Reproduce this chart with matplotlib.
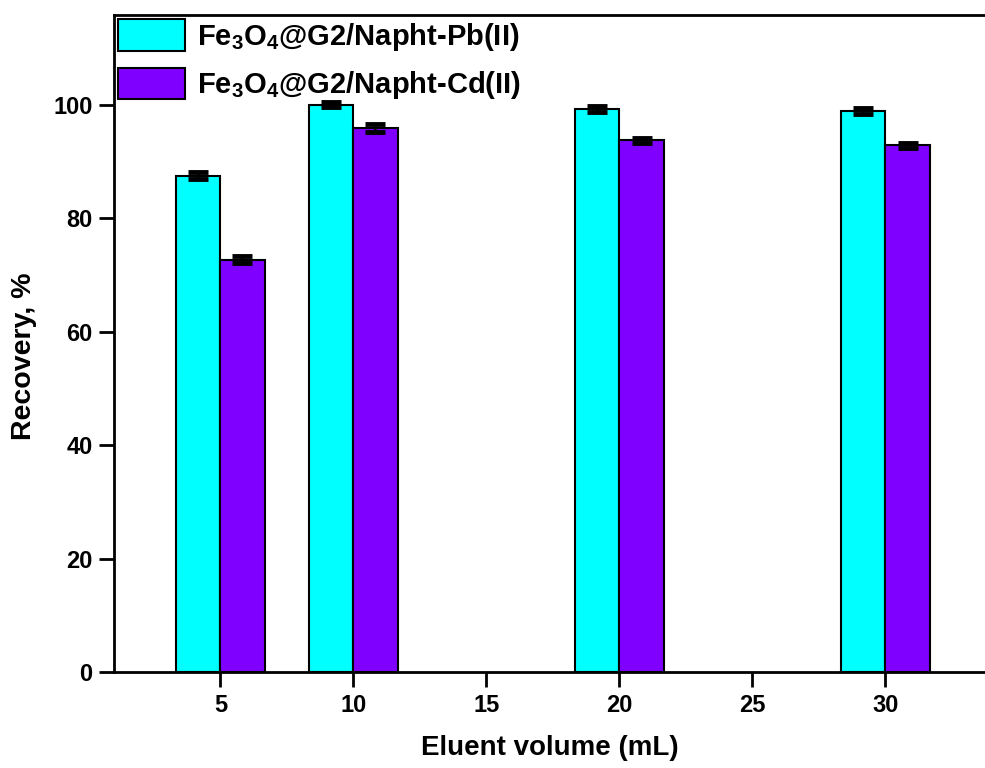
import matplotlib
matplotlib.use("Agg")
import matplotlib.pyplot as plt
import numpy as np

plt.rcParams['font.family'] = ['Liberation Sans', 'DejaVu Sans']
plt.rcParams['font.weight'] = 'bold'
plt.rcParams['mathtext.fontset'] = 'custom'
plt.rcParams['mathtext.rm'] = 'Liberation Sans:bold'
plt.rcParams['mathtext.it'] = 'Liberation Sans:bold'
plt.rcParams['mathtext.bf'] = 'Liberation Sans:bold'

# Eluent volume (mL) and recoveries (%)
volumes = [5, 10, 20, 30]
pb_recovery = [87.5, 100.0, 99.2, 98.9]
pb_error = [0.6, 0.5, 0.5, 0.5]
cd_recovery = [72.7, 95.8, 93.7, 92.8]
cd_error = [0.6, 0.7, 0.4, 0.4]
series_labels = [r'Fe$_3$O$_4$@G2/Napht-Pb(II)', r'Fe$_3$O$_4$@G2/Napht-Cd(II)']

fig = plt.figure(figsize=(9.85, 7.68), dpi=100)
ax = fig.add_axes([0.1157, 0.125, 0.8843, 0.8555])

width = 1.66
x = np.array(volumes, dtype=float)
err_kw = dict(ecolor='black', elinewidth=2.0, capsize=7, capthick=3.5)
ax.bar(x - width / 2, pb_recovery, width, yerr=pb_error, color='#00FFFF',
       edgecolor='black', linewidth=1.5, label=series_labels[0], error_kw=err_kw)
ax.bar(x + width / 2, cd_recovery, width, yerr=cd_error, color='#7F00FF',
       edgecolor='black', linewidth=1.5, label=series_labels[1], error_kw=err_kw)

ax.set_xlim(1, 33.74)
ax.set_ylim(0, 115.8)
ax.set_xticks([5, 10, 15, 20, 25, 30])
ax.set_yticks([0, 20, 40, 60, 80, 100])

for side in ['left', 'bottom', 'top']:
    ax.spines[side].set_linewidth(2.0)
ax.spines['right'].set_visible(False)

ax.tick_params(axis='both', direction='out', length=10.5, width=2.0,
               labelsize=17, pad=5)
for lab in ax.get_xticklabels() + ax.get_yticklabels():
    lab.set_fontweight('bold')

ax.set_xlabel('Eluent volume (mL)', fontsize=20, fontweight='bold', labelpad=13)
ax.set_ylabel('Recovery, %', fontsize=20.5, fontweight='bold')
ax.yaxis.set_label_coords(-0.088, 0.48)

leg = ax.legend(loc='upper left', bbox_to_anchor=(0.0, 1.0), frameon=False,
                prop={'size': 21, 'weight': 'bold'}, handlelength=2.3,
                handleheight=1.3, handletextpad=0.4, borderaxespad=0.05,
                borderpad=0.1, labelspacing=0.5)

fig.savefig('out.png', dpi=100, facecolor='white')
